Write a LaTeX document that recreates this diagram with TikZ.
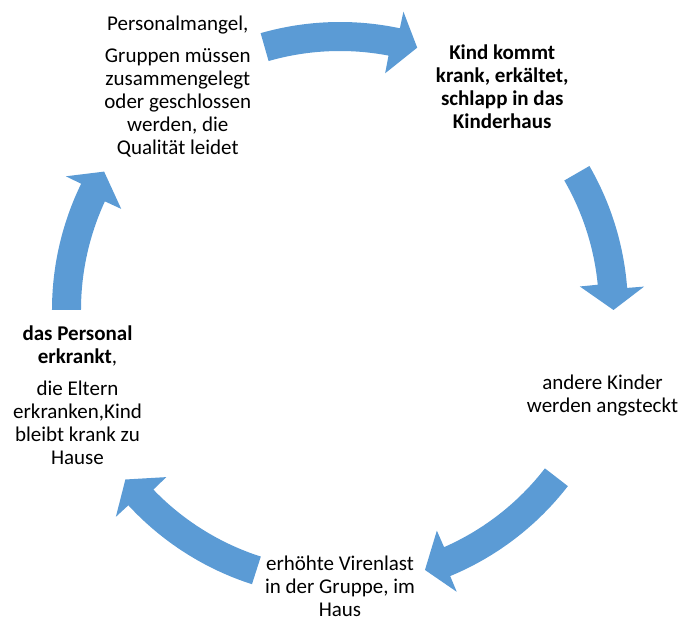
\documentclass[tikz,border=0pt]{standalone}
\usepackage{fontspec}
\setmainfont{Carlito}
\usepackage{xcolor}
\usepackage{tikz}

\definecolor{arrowblue}{HTML}{5B9BD5}

\begin{document}
\begin{tikzpicture}[x = 0.75pt, y = 0.75pt,
		stage/.style = {align = center, font = \fontsize{15.75}{17.25}\selectfont},
		boldstage/.style = {stage, font = \fontsize{15.75}{17.25}\selectfont\bfseries},
		cyclearrow/.style = {fill = arrowblue}]
		\def\rn{276};
		\def\ri{259};
		\def\ro{288};
		\def\bi{241};
		\def\bo{305};
		\def\rt{273.5};

		\useasboundingbox (-340,-307) rectangle (342,310);
		\coordinate (c) at (0,0);

		\node[stage] (shortage) at (126:\rn) {Personalmangel,\\[6.75pt] Gruppen müssen\\ zusammengelegt\\ oder geschlossen\\ werden, die\\ Qualität leidet};
		\node[boldstage] (sick) at (54:\rn) {Kind kommt\\ krank, erkältet,\\ schlapp in das\\ Kinderhaus};
		\node[stage] (others) at (-18:\rn) {andere Kinder\\ werden angsteckt};
		\node[stage] (load) at (-90:\rn) {erhöhte Virenlast\\ in der Gruppe, im\\ Haus};
		\node[stage] (staff) at (198:\rn) {\textbf{das Personal}\\ \textbf{erkrankt},\\[7pt] die Eltern\\ erkranken,Kind\\ bleibt krank zu\\ Hause};

		% tail angle / tip angle
		\begin{scope}[shift = {(c)}]
			\foreach \t/\p in {106/73.6, 30/0, -37.7/-71.9, -107.8/-141.7, 180/149.6}
				\fill[cyclearrow] (\t:\ro) arc [start angle = \t, end angle = \p+4.4, radius = \ro]
					-- ({\p+4.4}:\bo) -- (\p:\rt) -- ({\p+5.6}:\bi) -- ({\p+5.6}:\ri)
					arc [start angle = \p+5.6, end angle = \t, radius = \ri] -- cycle;
		\end{scope}
	\end{tikzpicture}
\end{document}
